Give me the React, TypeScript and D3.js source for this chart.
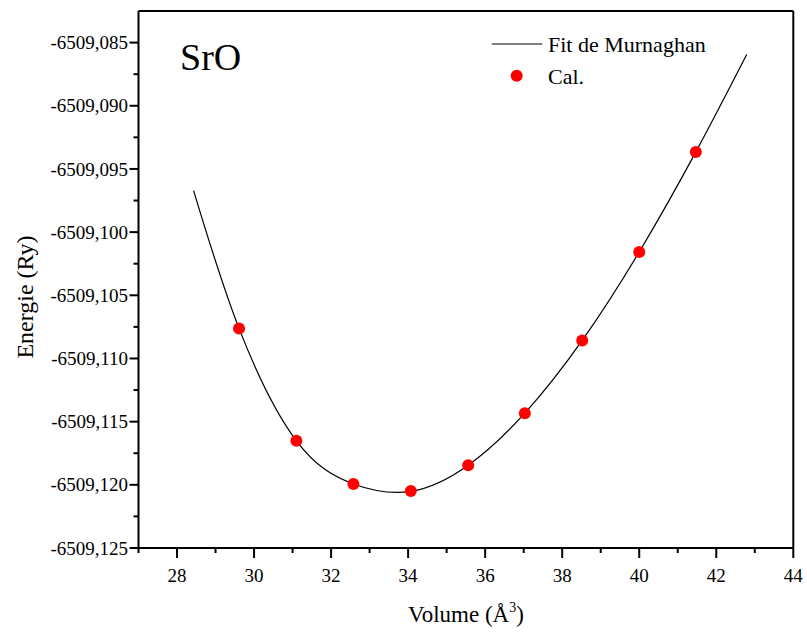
import React from "react";
import * as d3 from "d3";

// Calculated points (Volume Å^3, Energy Ry)
const calVolume = [29.61, 31.10, 32.58, 34.07, 35.56, 37.03, 38.52, 40.00, 41.47];
const calEnergy = [
  -6509.10762, -6509.11652, -6509.11993, -6509.12048, -6509.11845,
  -6509.11433, -6509.10857, -6509.10157, -6509.09365,
];

// Murnaghan fit curve
const fitVolume = [28.43, 29.61, 31.10, 32.58, 34.07, 35.56, 37.03, 38.52, 40.00, 41.47, 42.79];
const fitEnergy = [
  -6509.09671, -6509.10762, -6509.11652, -6509.11993, -6509.12052,
  -6509.11845, -6509.11433, -6509.10857, -6509.10157, -6509.09365, -6509.08594,
];

const xTicks = [28, 30, 32, 34, 36, 38, 40, 42, 44];
const xMinorTicks = [29, 31, 33, 35, 37, 39, 41, 43];
const yTicks = [-6509.125, -6509.12, -6509.115, -6509.11, -6509.105, -6509.1, -6509.095, -6509.09, -6509.085];
const yMinorTicks = [-6509.1225, -6509.1175, -6509.1125, -6509.1075, -6509.1025, -6509.0975, -6509.0925, -6509.0875];

const W = 807;
const H = 635;
const L = 138.5, R = 793.3, T = 11, B = 548;
const FONT = "Liberation Serif, Times New Roman, serif";

export default function App() {
  const x = d3.scaleLinear().domain([27, 44]).range([L, R]);
  const y = d3.scaleLinear().domain([-6509.125, -6509.0825]).range([B, T]);
  const fitData = fitVolume.map((v, i) => [v, fitEnergy[i]] as [number, number]);
  const line = d3
    .line<[number, number]>()
    .x((d) => x(d[0]))
    .y((d) => y(d[1]))
    .curve(d3.curveNatural);
  const fmtY = (v: number) => v.toFixed(3).replace(".", ",");

  return (
    <svg
      width={W}
      height={H}
      style={{ position: "absolute", left: 0, top: 0, background: "#fff", fontFamily: FONT }}
    >
      <rect x={0} y={0} width={W} height={H} fill="#fff" />
      {/* frame */}
      <line x1={L} x2={R} y1={T} y2={T} stroke="#000" strokeWidth={2} />
      <line x1={R} x2={R} y1={T} y2={B} stroke="#000" strokeWidth={2} />
      <line x1={L} x2={L} y1={T} y2={B + 5} stroke="#000" strokeWidth={2} />
      <line x1={L} x2={R} y1={B} y2={B} stroke="#000" strokeWidth={2} />

      {/* x ticks */}
      {xTicks.map((t) => (
        <g key={"xt" + t}>
          <line x1={x(t)} x2={x(t)} y1={B} y2={B + 10} stroke="#000" strokeWidth={2} />
          <text x={x(t)} y={582} textAnchor="middle" fontSize={19}>
            {t}
          </text>
        </g>
      ))}
      {xMinorTicks.map((t) => (
        <line key={"xm" + t} x1={x(t)} x2={x(t)} y1={B} y2={B + 5} stroke="#000" strokeWidth={2} />
      ))}

      {/* y ticks */}
      {yTicks.map((t) => (
        <g key={"yt" + t}>
          <line x1={L - 9} x2={L} y1={y(t)} y2={y(t)} stroke="#000" strokeWidth={2} />
          <text x={128} y={y(t)} dy="0.35em" textAnchor="end" fontSize={19}>
            {fmtY(t)}
          </text>
        </g>
      ))}
      {yMinorTicks.map((t) => (
        <line key={"ym" + t} x1={L - 5} x2={L} y1={y(t)} y2={y(t)} stroke="#000" strokeWidth={2} />
      ))}

      {/* axis labels */}
      <text x={466} y={622} textAnchor="middle" fontSize={23}>
        Volume (Å<tspan dy={-10} fontSize={14}>3</tspan>
        <tspan dy={10}>)</tspan>
      </text>
      <text transform={`translate(33, ${297}) rotate(-90)`} textAnchor="middle" fontSize={24}>
        Energie (Ry)
      </text>

      {/* title */}
      <text x={180} y={70} fontSize={38}>
        SrO
      </text>

      {/* fit curve */}
      <path d={line(fitData) || ""} fill="none" stroke="#000" strokeWidth={1.2} />

      {/* calculated points */}
      {calVolume.map((v, i) => (
        <circle key={"c" + i} cx={x(v)} cy={y(calEnergy[i])} r={6} fill="#ff0000" />
      ))}

      {/* legend */}
      <line x1={491.7} x2={542.3} y1={44} y2={44} stroke="#000" strokeWidth={1.2} />
      <text x={548} y={52} fontSize={22}>
        Fit de Murnaghan
      </text>
      <circle cx={516.7} cy={75.7} r={6} fill="#ff0000" />
      <text x={548} y={84} fontSize={22}>
        Cal.
      </text>
    </svg>
  );
}
